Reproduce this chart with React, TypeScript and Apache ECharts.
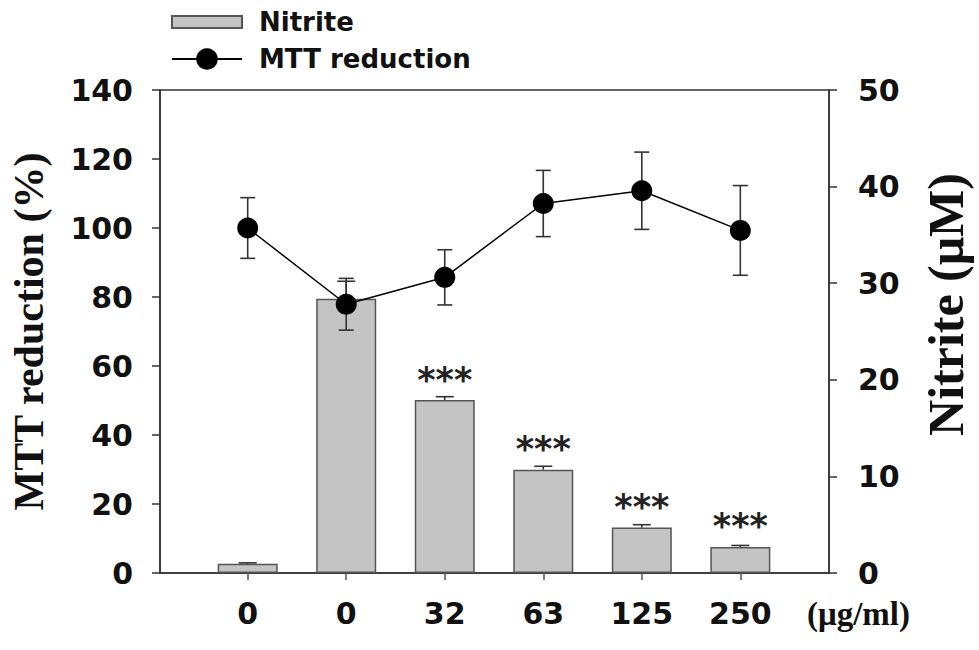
import React, { useEffect, useRef } from 'react';
import * as echarts from 'echarts';

const categories = ['0', '0', '32', '63', '125', '250'];
const positions = [1, 2, 3, 4, 5, 6];
const nitrite = [0.95, 28.4, 17.9, 10.7, 4.7, 2.7];
const nitriteErr = [0.1, 1.8, 0.35, 0.35, 0.3, 0.15];
const mtt = [100, 77.9, 85.7, 107.1, 110.8, 99.3];
const mttErr = [8.8, 7.5, 8.0, 9.6, 11.2, 13.0];
const marks = ['', '', '***', '***', '***', '***'];
const unitLabel = '(\u03bcg/ml)';

const SANS = 'DejaVu Sans';
const SERIF = 'Liberation Serif';

function errorBar(upperOnly: boolean, capHalf: number) {
  return (params: any, api: any) => {
    const x = api.value(0);
    const y = api.value(1);
    const e = api.value(2);
    const top = api.coord([x, y + e]);
    const bottom = api.coord([x, upperOnly ? y : y - e]);
    const style = { stroke: '#333', lineWidth: 1.6 };
    const children: any[] = [
      { type: 'line', shape: { x1: top[0], y1: top[1], x2: bottom[0], y2: bottom[1] }, style },
      { type: 'line', shape: { x1: top[0] - capHalf, y1: top[1], x2: top[0] + capHalf, y2: top[1] }, style },
    ];
    if (!upperOnly) {
      children.push({ type: 'line', shape: { x1: bottom[0] - capHalf, y1: bottom[1], x2: bottom[0] + capHalf, y2: bottom[1] }, style });
    }
    return { type: 'group', children };
  };
}

export default function App() {
  const ref = useRef<HTMLDivElement>(null);
  useEffect(() => {
    if (!ref.current) return;
    const chart = echarts.init(ref.current, undefined, { renderer: 'svg' });
    const tickLabel = { fontFamily: SANS, fontWeight: 'bold', fontSize: 30, color: '#111' };
    chart.setOption({
      animation: false,
      backgroundColor: '#fff',
      grid: { left: 159, right: 142, top: 90, bottom: 77, show: true, borderColor: '#333', borderWidth: 1.5 },
      legend: [
        {
          data: ['Nitrite'], left: 171, top: 9, padding: 0, icon: 'rect',
          itemWidth: 70, itemHeight: 12,
          textStyle: { fontFamily: SANS, fontWeight: 'bold', fontSize: 26, color: '#111', padding: [0, 0, 0, 12] },
        },
        {
          data: ['MTT reduction'], left: 171, top: 46, padding: 0,
          itemWidth: 70, itemHeight: 27,
          textStyle: { fontFamily: SANS, fontWeight: 'bold', fontSize: 26, color: '#111', padding: [0, 0, 0, 12] },
        },
      ],
      xAxis: {
        type: 'value', min: 0.11, max: 6.9,
        splitLine: { show: false },
        axisLine: { show: true, onZero: false, lineStyle: { color: '#333', width: 1.5 } },
        axisTick: { show: true, customValues: positions, length: 7, lineStyle: { color: '#555', width: 1.5 } },
        axisLabel: {
          customValues: positions, margin: 25, ...tickLabel,
          formatter: (v: number) => categories[Math.round(v) - 1] ?? '',
        },
      },
      yAxis: [
        {
          type: 'value', min: 0, max: 140, interval: 20, position: 'left',
          name: 'MTT reduction (%)', nameLocation: 'middle', nameGap: 110, nameRotate: 90,
          nameTextStyle: { fontFamily: SERIF, fontWeight: 'bold', fontSize: 42, color: '#111' },
          splitLine: { show: false },
          axisLine: { show: true, onZero: false, lineStyle: { color: '#333', width: 1.5 } },
          axisTick: { show: true, length: 8, lineStyle: { color: '#333', width: 1.5 } },
          axisLabel: { margin: 27, ...tickLabel },
        },
        {
          type: 'value', min: 0, max: 50, interval: 10, position: 'right',
          name: 'Nitrite (\u03bcM)', nameLocation: 'middle', nameGap: 92, nameRotate: 90,
          nameTextStyle: { fontFamily: SERIF, fontWeight: 'bold', fontSize: 50, color: '#111', padding: [0, 0, 0, 54] },
          splitLine: { show: false },
          axisLine: { show: true, onZero: false, lineStyle: { color: '#333', width: 1.5 } },
          axisTick: { show: true, length: 8, lineStyle: { color: '#333', width: 1.5 } },
          axisLabel: { margin: 29, ...tickLabel },
        },
      ],
      graphic: [
        {
          type: 'text', left: 807, top: 597,
          style: { text: unitLabel, fontFamily: SERIF, fontWeight: 'bold', fontSize: 33, fill: '#111' },
        },
      ],
      series: [
        {
          name: 'Nitrite', type: 'bar', yAxisIndex: 1, barWidth: 60,
          data: positions.map((p, i) => [p, nitrite[i]]),
          itemStyle: { color: '#c4c4c4', borderColor: '#555', borderWidth: 1.5 },
          label: {
            show: true, position: 'top', distance: 3,
            formatter: (p: any) => marks[p.dataIndex],
            fontFamily: SANS, fontWeight: 'bold', fontSize: 35, color: '#222',
          },
          z: 2,
        },
        {
          name: 'nitriteErr', type: 'custom', yAxisIndex: 1,
          renderItem: errorBar(true, 9),
          data: positions.map((p, i) => [p, nitrite[i], nitriteErr[i]]),
          z: 3,
        },
        {
          name: 'mttErr', type: 'custom', yAxisIndex: 0,
          renderItem: errorBar(false, 7.5),
          data: positions.map((p, i) => [p, mtt[i], mttErr[i]]),
          z: 4,
        },
        {
          name: 'MTT reduction', type: 'line', yAxisIndex: 0,
          data: positions.map((p, i) => [p, mtt[i]]),
          symbol: 'circle', symbolSize: 21,
          itemStyle: { color: '#000' },
          lineStyle: { color: '#000', width: 1.5 },
          z: 5,
        },
      ],
    });
    return () => chart.dispose();
  }, []);
  return <div ref={ref} style={{ position: 'fixed', left: 0, top: 0, width: 979, height: 650 }} />;
}
